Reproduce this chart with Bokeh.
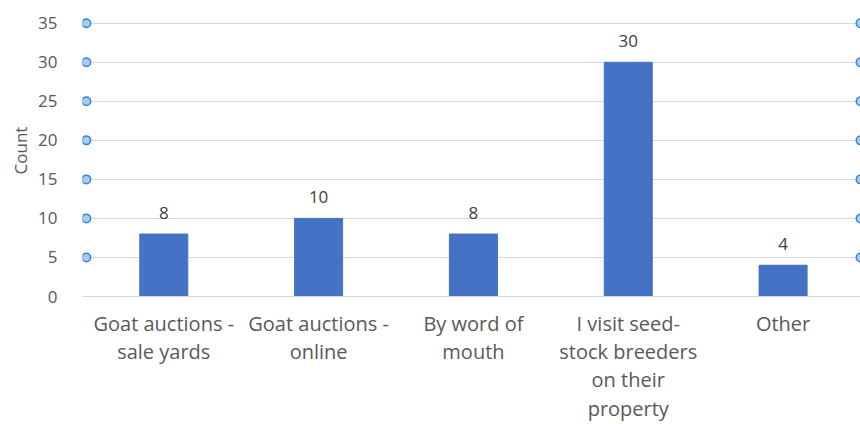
from bokeh.plotting import figure
from bokeh.models import ColumnDataSource, FixedTicker, Range1d, LabelSet
from bokeh.core.properties import value
from bokeh.embed import file_html
from bokeh.resources import INLINE

categories = ["Goat auctions - sale yards", "Goat auctions - online", "By word of mouth",
              "I visit seed-stock breeders on their property", "Other"]
tick_labels = ["Goat auctions -\nsale yards", "Goat auctions -\nonline", "By word of\nmouth",
               "I visit seed-\nstock breeders\non their\nproperty", "Other"]
counts = [8, 10, 8, 30, 4]
y_ticks = [0, 5, 10, 15, 20, 25, 30, 35]
handle_values = [5, 10, 15, 20, 25, 30, 35]

FONT = "Open Sans"
n = len(categories)
xs = [i + 0.5 for i in range(n)]

p = figure(width=860, height=424, output_backend="svg", toolbar_location=None,
           x_range=Range1d(-0.025, n), y_range=Range1d(0, 37.4),
           min_border_left=82, min_border_right=0, min_border_top=4, min_border_bottom=128)
p.outline_line_color = None
p.background_fill_color = "white"
p.border_fill_color = "white"

src = ColumnDataSource(dict(x=xs, count=counts, label=[str(c) for c in counts]))
p.vbar(x="x", top="count", width=0.31, source=src, color="#4472C4")

labels = LabelSet(x="x", y="count", text="label", source=src, text_align="center",
                  text_baseline="bottom", y_offset=15, text_font=value(FONT),
                  text_font_size="17px", text_color="#404040")
p.add_layout(labels)

# gridline handles at both ends
hx = [0] * len(handle_values) + [n] * len(handle_values)
hy = handle_values + handle_values
p.scatter(hx, hy, size=8.5, fill_color="#A9CDF0", line_color="#2E86DE", line_width=1.5)

p.xaxis.ticker = FixedTicker(ticks=xs)
p.xaxis.major_label_overrides = {x: t for x, t in zip(xs, tick_labels)}
p.xaxis.major_tick_line_color = None
p.xaxis.minor_tick_line_color = None
p.xaxis.axis_line_color = "#D9D9D9"
p.xaxis.major_label_text_font = FONT
p.xaxis.major_label_text_font_size = "20px"
p.xaxis.major_label_text_color = "#595959"
p.xaxis.major_label_standoff = 7
p.xaxis.major_label_text_line_height = 1.05

p.yaxis.ticker = FixedTicker(ticks=y_ticks)
p.yaxis.major_tick_line_color = None
p.yaxis.minor_tick_line_color = None
p.yaxis.axis_line_color = None
p.yaxis.major_label_text_font = FONT
p.yaxis.major_label_text_font_size = "17px"
p.yaxis.major_label_text_color = "#595959"
p.yaxis.major_label_standoff = 19
p.yaxis.axis_label = "Count"
p.yaxis.axis_label_text_font = FONT
p.yaxis.axis_label_text_font_size = "17px"
p.yaxis.axis_label_text_font_style = "normal"
p.yaxis.axis_label_text_color = "#595959"
p.yaxis.axis_label_standoff = 3

p.xgrid.grid_line_color = None
p.ygrid.ticker = FixedTicker(ticks=y_ticks)
p.ygrid.grid_line_color = "#D9D9D9"
p.ygrid.grid_line_width = 1

open("out.html", "w").write(file_html(p, INLINE))
